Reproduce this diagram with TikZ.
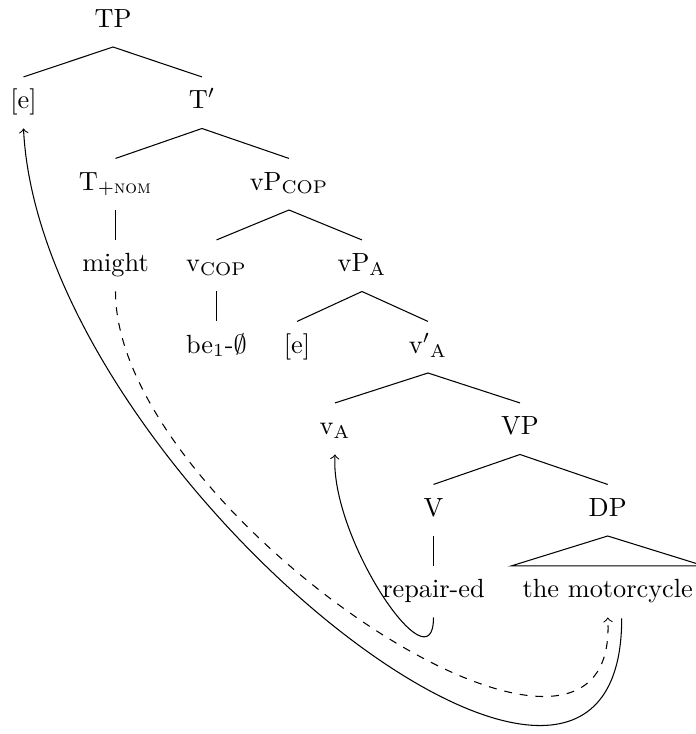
\documentclass[tikz,border=0pt]{standalone}
\usepackage{amsmath}
\usetikzlibrary{calc}
\begin{document}
\begin{tikzpicture}[x=0.3802pt,y=-0.3802pt,
  lab/.style={anchor=base,inner sep=0pt,text height=11.8pt,text depth=7.4pt},
  branch/.style={line width=0.4pt},
  move/.style={->,line width=0.4pt}]
\useasboundingbox (0,0) rectangle (696,734);
% level baselines: 27, 108.5, 190, 271.5, 353, 434.5, 516, 597.5
\node[lab] (TP) at (113,27) {TP};
\node[lab] (e1) at (23.5,108.5) {[e]};
\node[lab] (Tbar) at (202,108.5) {T$'$};
\node[lab] (Tnom) at (115.5,190) {T$_{+\textsc{nom}}$};
\node[lab] (vPcop) at (289,190) {vP$_{\text{COP}}$};
\node[lab] (might) at (115.5,271.5) {might};
\node[lab] (vcop) at (216.5,271.5) {v$_{\text{COP}}$};
\node[lab] (vPA) at (362,271.5) {vP$_{\text{A}}$};
\node[lab] (be) at (216.5,353) {be$_1$-$\emptyset$};
\node[lab] (e2) at (297,353) {[e]};
\node[lab] (vbarA) at (428,353) {v$'{}_{\text{A}}$};
\node[lab] (vA) at (335,434.5) {v$_{\text{A}}$};
\node[lab] (VP) at (520,434.5) {VP};
\node[lab] (V) at (433.5,516) {V};
\node[lab] (DP) at (607.7,516) {DP};
\node[lab] (repair) at (433.5,597.5) {repair-ed};
\node[lab] (moto) at (607.7,597.5) {the motorcycle};
% branches
\draw[branch] (TP.south) -- (e1.north);
\draw[branch] (TP.south) -- (Tbar.north);
\draw[branch] (Tbar.south) -- (Tnom.north);
\draw[branch] (Tbar.south) -- (vPcop.north);
\draw[branch] (Tnom.south) -- (might.north);
\draw[branch] (vPcop.south) -- (vcop.north);
\draw[branch] (vPcop.south) -- (vPA.north);
\draw[branch] (vcop.south) -- (be.north);
\draw[branch] (vPA.south) -- (e2.north);
\draw[branch] (vPA.south) -- (vbarA.north);
\draw[branch] (vbarA.south) -- (vA.north);
\draw[branch] (vbarA.south) -- (VP.north);
\draw[branch] (VP.south) -- (V.north);
\draw[branch] (VP.south) -- (DP.north);
\draw[branch] (V.south) -- (repair.north);
\draw[branch] (DP.south) -- ($(moto.north)+(-96.5,0)$) -- ($(moto.north)+(96.5,0)$) -- cycle;
% movement arrows
\draw[move] (repair.south) .. controls +(0,73) and +(-5,85) .. (vA.south);
\draw[move,dashed] (might.south) .. controls +(0,220) and +(14,233) .. (moto.south);
\draw[move] ($(moto.south)+(14,1)$) .. controls +(0,320) and +(17,343) .. (e1.south);
\end{tikzpicture}
\end{document}
